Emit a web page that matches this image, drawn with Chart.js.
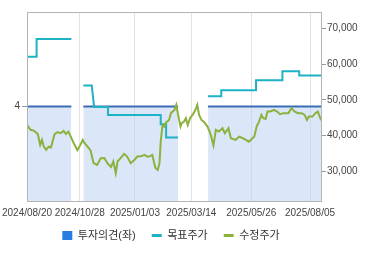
<!DOCTYPE html>
<html>
<head>
<meta charset="utf-8">
<script src="https://cdn.jsdelivr.net/npm/chart.js@4"></script>
<style>
  html, body { margin: 0; padding: 0; background: #fff; }
  #wrap { width: 370px; height: 255px; }
</style>
</head>
<body>
<div id="wrap"><canvas id="chart" width="370" height="255"></canvas></div>
<script>
// x = trading-day index from 2024/08/20
const tickDays = [0, 44, 90, 137, 187, 236];
const tickLabels = ['2024/08/20', '2024/10/28', '2025/01/03', '2025/03/14', '2025/05/26', '2025/08/05'];
const rightTicks = [30000, 40000, 50000, 60000, 70000];

// 투자의견 (left axis), null = no coverage
const opinionDays = [0, 37, 38, 47, 126, 127, 151, 246];
const opinion = [4, 4, null, 4, 4, null, 4, 4];

// 목표주가
const targetDays = [0, 8, 8, 37, 38, 47, 54, 56, 67.5, 67.5, 111.5, 111.5, 116, 116, 126, 127, 151, 162, 162, 191, 191, 213, 213, 227, 227, 246];
const target = [62000, 62000, 67000, 67000, null, 54000, 54000, 48000, 48000, 45800, 45800, 43200, 43200, 39500, 39500, null, 51000, 51000, 52700, 52700, 55500, 55500, 58000, 58000, 56800, 56800];

// 수정주가
const priceDays = [0, 3, 6, 9, 11, 12.5, 14, 16, 18, 20, 23, 25.5, 28, 30.5, 32.5, 34.5, 36.5, 39, 42, 44.5,
  46.5, 48, 50.5, 53, 55.5, 58.5, 61.5, 64.5, 67, 70, 72, 74, 75.5, 78, 81, 83.5, 86.5, 89.5, 92, 95,
  98, 100, 102, 104.5, 107, 109, 110.5, 111.5, 113, 114.5, 116, 118.5, 120, 123, 124.5, 126, 128, 129, 131, 132.5,
  134, 136, 139, 141, 142, 143.5, 145.5, 148, 150.5, 153, 155.5, 157.5, 160, 163, 165, 168, 170, 174, 177, 180,
  182.5, 185, 188, 189.5, 191.5, 193.5, 195.5, 197, 199, 200.5, 203, 206, 208.5, 211, 214, 218, 220.5, 223, 226, 229,
  231.5, 233.5, 235, 238, 240.5, 242.5, 244.5, 246];
const prices = [43000, 41650, 41350, 40500, 37450, 38850, 36950, 36050, 36950, 36750, 40450, 41000, 40700, 41350, 40500, 41150, 39750, 37900, 35950, 37450,
  38850, 37900, 36950, 35900, 32350, 31850, 33750, 33800, 32350, 31300, 32800, 29550, 32800, 33750, 34950, 34200, 32350, 33250, 34200, 34250,
  34650, 34200, 34200, 34650, 31050, 30450, 32350, 38300, 43000, 42550, 43700, 44400, 46300, 47200, 48600, 45800, 42550, 43500, 43950, 44900,
  43000, 44900, 46300, 47700, 48600, 45800, 44400, 43700, 42550, 40500, 37300, 41650, 41150, 42100, 40700, 42100, 39300, 38850, 39750, 39300,
  38850, 38350, 39300, 39750, 42550, 43950, 45800, 44900, 44700, 46750, 46750, 47200, 46750, 46000, 46300, 46300, 47700, 46750, 46300, 46300,
  45800, 44400, 45350, 45350, 46300, 46750, 44900, 44150];

const pts = (xs, ys) => xs.map((x, i) => ({ x: x, y: ys[i] }));
const font = "'Liberation Sans', 'Noto Sans CJK KR', sans-serif";

// plot frame + legend sits a bit left of centre in the original
const frame = {
  id: 'frame',
  afterLayout(chart) {
    const lg = chart.legend;
    lg.left -= 14;
    lg.right -= 14;
    lg.top -= 7;
    lg.bottom -= 7;
  },
  afterDraw(chart) {
    const a = chart.chartArea, c = chart.ctx;
    c.save();
    c.strokeStyle = '#b4b4b4';
    c.lineWidth = 1;
    c.strokeRect(Math.round(a.left) + 0.5, Math.round(a.top) + 0.5, Math.round(a.right - a.left) - 1, Math.round(a.bottom - a.top));
    c.restore();
  }
};

new Chart(document.getElementById('chart'), {
  type: 'line',
  data: {
    datasets: [{
      label: '투자의견(좌)',
      data: pts(opinionDays, opinion),
      yAxisID: 'y',
      borderColor: '#3a6db4',
      backgroundColor: 'rgba(190, 212, 242, 0.55)',
      borderWidth: 2,
      fill: 'origin',
      order: 3
    }, {
      label: '목표주가',
      data: pts(targetDays, target),
      yAxisID: 'y2',
      borderColor: '#1db2c6',
      backgroundColor: '#1db2c6',
      borderWidth: 2,
      fill: false,
      order: 2
    }, {
      label: '수정주가',
      data: pts(priceDays, prices),
      yAxisID: 'y2',
      borderColor: '#8ab23c',
      backgroundColor: '#8ab23c',
      borderWidth: 2,
      fill: false,
      order: 1
    }]
  },
  options: {
    responsive: false,
    animation: false,
    spanGaps: false,
    elements: { point: { radius: 0 }, line: { tension: 0 } },
    layout: { padding: { top: 12, left: 0, right: 0, bottom: -3 } },
    plugins: {
      tooltip: { enabled: false },
      legend: {
        position: 'bottom',
        labels: {
          font: { family: font, size: 11 },
          color: '#333',
          usePointStyle: true,
          pointStyleWidth: 10,
          boxHeight: 9,
          padding: 16,
          sort: (a, b) => a.datasetIndex - b.datasetIndex,
          generateLabels(chart) {
            const items = Chart.defaults.plugins.legend.labels.generateLabels(chart);
            items.forEach(it => {
              if (it.datasetIndex === 0) {
                it.pointStyle = 'rect';
                it.fillStyle = '#2a7ddf';
                it.strokeStyle = '#2a7ddf';
                it.lineWidth = 0;
              } else {
                it.pointStyle = 'line';
                it.lineWidth = 3;
              }
            });
            return items;
          }
        }
      }
    },
    scales: {
      x: {
        type: 'linear',
        min: 0,
        max: 246,
        afterBuildTicks: s => { s.ticks = tickDays.map(v => ({ value: v })); },
        afterFit: s => { s.height = 20; s.paddingLeft = 0; s.paddingRight = 0; },
        grid: { color: '#e2e2e2', drawTicks: false },
        border: { display: false },
        ticks: {
          padding: 6,
          maxRotation: 0,
          autoSkip: false,
          color: '#444',
          font: { family: font, size: 10 },
          callback: v => tickLabels[tickDays.indexOf(v)]
        }
      },
      y: {
        position: 'left',
        min: 0,
        max: 8,
        afterBuildTicks: s => { s.ticks = [{ value: 4 }]; },
        afterFit: s => { s.width = 27; },
        grid: { drawOnChartArea: false, tickLength: 5, color: '#999' },
        border: { display: false },
        ticks: { padding: 2, color: '#444', font: { family: font, size: 10 } }
      },
      y2: {
        position: 'right',
        min: 21800,
        max: 74500,
        afterBuildTicks: s => { s.ticks = rightTicks.map(v => ({ value: v })); },
        afterFit: s => { s.width = 48; },
        grid: { drawOnChartArea: false, tickLength: 4, color: '#999' },
        border: { display: false },
        ticks: {
          padding: 1,
          color: '#444',
          font: { family: font, size: 10 },
          callback: v => v.toLocaleString('en-US')
        }
      }
    }
  },
  plugins: [frame]
});
</script>
</body>
</html>
